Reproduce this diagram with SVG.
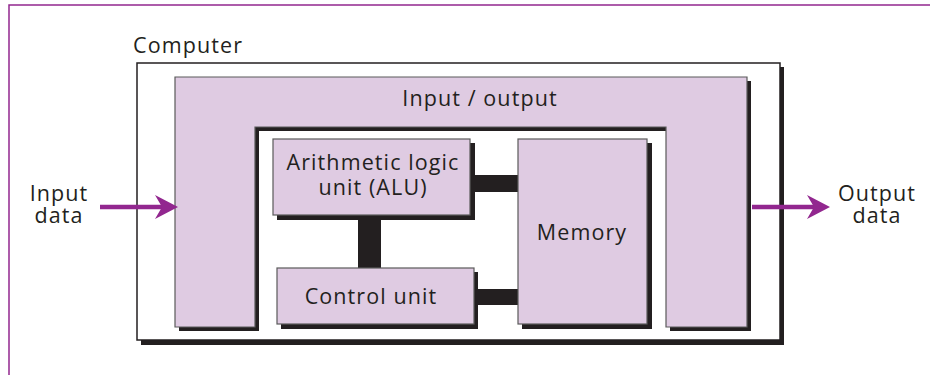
<svg xmlns="http://www.w3.org/2000/svg" width="930" height="375" viewBox="0 0 930 375">
<defs>
<style>
.t{font-family:"Open Sans","Noto Sans",sans-serif;font-size:21.5px;letter-spacing:1.1px;fill:#231f20;text-anchor:middle}
.box{fill:#dfcbe2;stroke:#5a5a5a;stroke-width:1.2}
.sh{fill:#231f20}
.bar{fill:#231f20}
.arr{stroke:#92278f;stroke-width:4.5;fill:none}
.head{fill:#92278f}
</style>
</defs>
<rect x="9" y="5" width="940" height="400" fill="none" stroke="#92278f" stroke-width="1.5"/>
<g id="computer">
<rect x="141" y="67" width="643" height="278" class="sh"/>
<rect x="137" y="63" width="643" height="277" fill="#fff" stroke="#231f20" stroke-width="1.5"/>
<text x="133" y="53" class="t" style="text-anchor:start">Computer</text>
</g>
<g id="io">
<path transform="translate(4,4)" class="sh" d="M175,77 H747 V327 H666 V127 H255 V327 H175 Z"/>
<path class="box" d="M175,77 H747 V327 H666 V127 H255 V327 H175 Z"/>
<text x="480" y="106" class="t">Input / output</text>
</g>
<g id="connectors">
<rect x="470" y="175" width="50" height="17" class="bar"/>
<rect x="474" y="289" width="46" height="16" class="bar"/>
<rect x="358" y="215" width="23" height="55" class="bar"/>
<line x1="100" y1="207" x2="162" y2="207" class="arr"/>
<polygon points="178,207 155,195 162,207 155,219" class="head"/>
<line x1="752" y1="207" x2="815" y2="207" class="arr"/>
<polygon points="830,207 807,195 814,207 807,219" class="head"/>
</g>
<g id="alu">
<rect x="277" y="143" width="198" height="77" class="sh"/>
<rect x="273" y="139" width="197" height="76" class="box"/>
<text x="373" y="170" class="t">Arithmetic logic</text>
<text x="373" y="195" class="t">unit (ALU)</text>
</g>
<g id="control">
<rect x="281" y="272" width="197" height="57" class="sh"/>
<rect x="277" y="268" width="197" height="56" class="box"/>
<text x="371" y="304" class="t">Control unit</text>
</g>
<g id="memory">
<rect x="522" y="143" width="130" height="186" class="sh"/>
<rect x="518" y="139" width="129" height="185" class="box"/>
<text x="582" y="240" class="t">Memory</text>
</g>
<g id="input">
<text x="59" y="201" class="t">Input</text>
<text x="59" y="223" class="t">data</text>
</g>
<g id="output">
<text x="877" y="201" class="t">Output</text>
<text x="877" y="223" class="t">data</text>
</g>
</svg>
